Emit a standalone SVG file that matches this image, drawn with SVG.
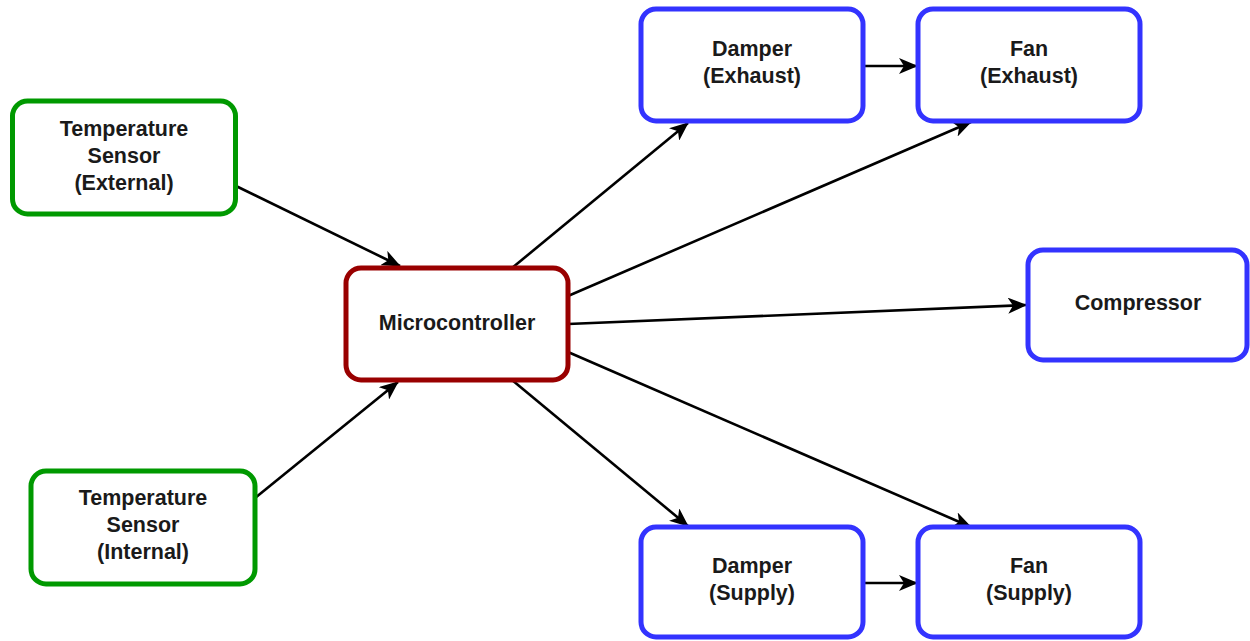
<svg xmlns="http://www.w3.org/2000/svg" width="1250" height="641" viewBox="0 0 1250 641">
<style>
.box{fill:#fff;stroke-width:5}
.g{stroke:#009900}
.r{stroke:#990000}
.b{stroke:#3333ff}
text{font-family:"Liberation Sans",Arial,Helvetica,sans-serif;font-weight:bold;font-size:21.5px;fill:#1a1a1a;text-anchor:middle}
.c line{stroke:#000;stroke-width:2.6;fill:none}
</style>
<defs>
<marker id="ah" viewBox="0 0 19 16" refX="18" refY="8" markerWidth="19" markerHeight="16" markerUnits="userSpaceOnUse" orient="auto">
<path d="M0,0 L19,8 L0,16 L5,8 z" fill="#000"/>
</marker>
</defs>
<rect width="1250" height="641" fill="#fff"/>
<g class="c">
<line x1="236" y1="186" x2="400" y2="266" marker-end="url(#ah)"/>
<line x1="255" y1="498" x2="398" y2="382" marker-end="url(#ah)"/>
<line x1="512" y1="268" x2="688" y2="123" marker-end="url(#ah)"/>
<line x1="568" y1="296" x2="971" y2="122" marker-end="url(#ah)"/>
<line x1="568" y1="324" x2="1026" y2="305" marker-end="url(#ah)"/>
<line x1="512" y1="380" x2="688" y2="526" marker-end="url(#ah)"/>
<line x1="568" y1="352" x2="971" y2="527" marker-end="url(#ah)"/>
<line x1="864" y1="66" x2="917" y2="66" marker-end="url(#ah)"/>
<line x1="864" y1="583" x2="917" y2="583" marker-end="url(#ah)"/>
</g>
<g id="tempExternal">
<rect class="box g" x="12.5" y="101" width="223" height="113" rx="15"/>
<text x="124" y="136">Temperature</text>
<text x="124" y="163">Sensor</text>
<text x="124" y="190">(External)</text>
</g>
<g id="tempInternal">
<rect class="box g" x="31" y="471" width="224" height="113" rx="15"/>
<text x="143" y="505">Temperature</text>
<text x="143" y="532">Sensor</text>
<text x="143" y="559">(Internal)</text>
</g>
<g id="microcontroller">
<rect class="box r" x="346" y="268" width="222" height="112" rx="15"/>
<text x="457" y="330">Microcontroller</text>
</g>
<g id="damperExhaust">
<rect class="box b" x="641" y="9" width="222" height="112" rx="15"/>
<text x="752" y="56">Damper</text>
<text x="752" y="83">(Exhaust)</text>
</g>
<g id="fanExhaust">
<rect class="box b" x="918" y="9" width="222" height="112" rx="15"/>
<text x="1029" y="56">Fan</text>
<text x="1029" y="83">(Exhaust)</text>
</g>
<g id="compressor">
<rect class="box b" x="1028" y="250" width="219" height="110" rx="15"/>
<text x="1138" y="310">Compressor</text>
</g>
<g id="damperSupply">
<rect class="box b" x="641" y="527" width="222" height="110" rx="15"/>
<text x="752" y="573">Damper</text>
<text x="752" y="600">(Supply)</text>
</g>
<g id="fanSupply">
<rect class="box b" x="918" y="527" width="222" height="110" rx="15"/>
<text x="1029" y="573">Fan</text>
<text x="1029" y="600">(Supply)</text>
</g>
</svg>
